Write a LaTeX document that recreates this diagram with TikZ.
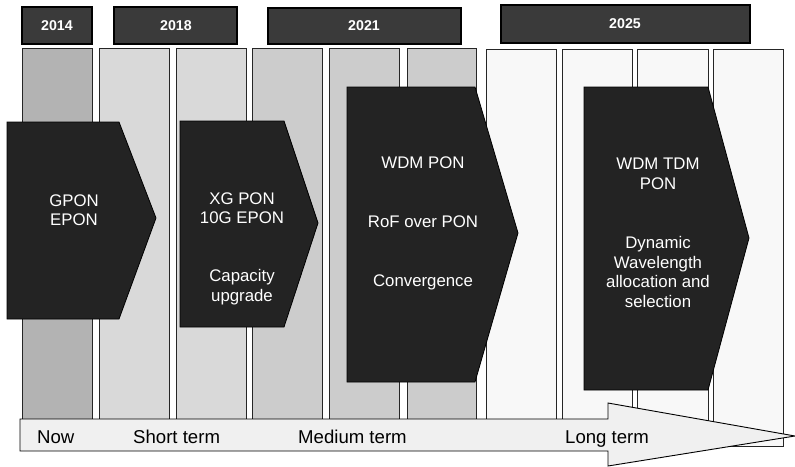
\documentclass[tikz,border=0pt]{standalone}
\usepackage{fontspec}
\setmainfont{Liberation Sans}
\definecolor{yearfill}{HTML}{3A3A3A}
\definecolor{arrfill}{HTML}{232323}
\definecolor{colA}{HTML}{B3B3B3}
\definecolor{colB}{HTML}{D9D9D9}
\definecolor{colC}{HTML}{CCCCCC}
\definecolor{colD}{HTML}{F8F8F8}
\definecolor{tlfill}{HTML}{F0F0F0}
\tikzset{
  yearbox/.style={draw=black, line width=1.2pt, fill=yearfill},
  yeartext/.style={text=white, font=\fontsize{14.2}{16}\selectfont\bfseries},
  colbox/.style={draw=black!85, line width=0.9pt},
  pent/.style={draw=black, line width=0.8pt, fill=arrfill},
  penttext/.style={text=white, align=center, font=\fontsize{16.8}{19.5}\selectfont},
  tl/.style={draw=black, line width=0.9pt, fill=tlfill},
  tltext/.style={font=\fontsize{18.6}{20}\selectfont, text=black, anchor=base west, inner sep=0pt}
}
\begin{document}
\begin{tikzpicture}[x=1pt,y=-1pt]
\useasboundingbox (0,0) rectangle (795,466);
% year boxes
\draw[yearbox] (22,7) rectangle (92,44);
\node[yeartext] (y2014) at (57,25.5) {2014};
\draw[yearbox] (114,7) rectangle (237,44);
\node[yeartext] (y2018) at (176,25.5) {2018};
\draw[yearbox] (268,8) rectangle (461,44);
\node[yeartext] (y2021) at (364,26) {2021};
\draw[yearbox] (501,5) rectangle (750,43);
\node[yeartext] (y2025) at (625,24) {2025};
% columns
\draw[colbox, fill=colA] (22,48) rectangle (92,446);
\draw[colbox, fill=colB] (99,48) rectangle (169,446);
\draw[colbox, fill=colB] (176,48) rectangle (246,446);
\draw[colbox, fill=colC] (252,48) rectangle (322,446);
\draw[colbox, fill=colC] (329,48) rectangle (399,446);
\draw[colbox, fill=colC] (407,48) rectangle (476,446);
\draw[colbox, fill=colD] (486,49) rectangle (556,446);
\draw[colbox, fill=colD] (562,49) rectangle (632,446);
\draw[colbox, fill=colD] (637,49) rectangle (708,446);
\draw[colbox, fill=colD] (713,49) rectangle (783,446);
% pentagon arrows
\draw[pent] (7,122) -- (119,122) -- (156,218) -- (119,319) -- (7,319) -- cycle;
\node[penttext] (a1) at (74,210) {GPON\\EPON};
\draw[pent] (180,121) -- (284,121) -- (318,223) -- (284,327) -- (180,327) -- cycle;
\node[penttext] (a2a) at (242,208) {XG PON\\10G EPON};
\node[penttext] (a2b) at (242,287) {Capacity\\upgrade};
\draw[pent] (347,87) -- (475,87) -- (518,233) -- (475,382) -- (347,382) -- cycle;
\node[penttext] (a3a) at (423,163) {WDM PON};
\node[penttext] (a3b) at (423,222) {RoF over PON};
\node[penttext] (a3c) at (423,282) {Convergence};
\draw[pent] (584,87) -- (708,87) -- (749,238) -- (708,390) -- (584,390) -- cycle;
\node[penttext] (a4a) at (658,174) {WDM TDM\\PON};
\node[penttext] (a4b) at (658,272) {Dynamic\\Wavelength\\allocation and\\selection};
% timeline arrow
\draw[tl] (20,419) -- (608,419) -- (608,403) -- (795,436) -- (608,466) -- (608,451) -- (20,451) -- cycle;
\node[tltext] (now) at (37,443) {Now};
\node[tltext] (short) at (133,443) {Short term};
\node[tltext] (medium) at (298,443) {Medium term};
\node[tltext] (long) at (565,443) {Long term};
\end{tikzpicture}
\end{document}
